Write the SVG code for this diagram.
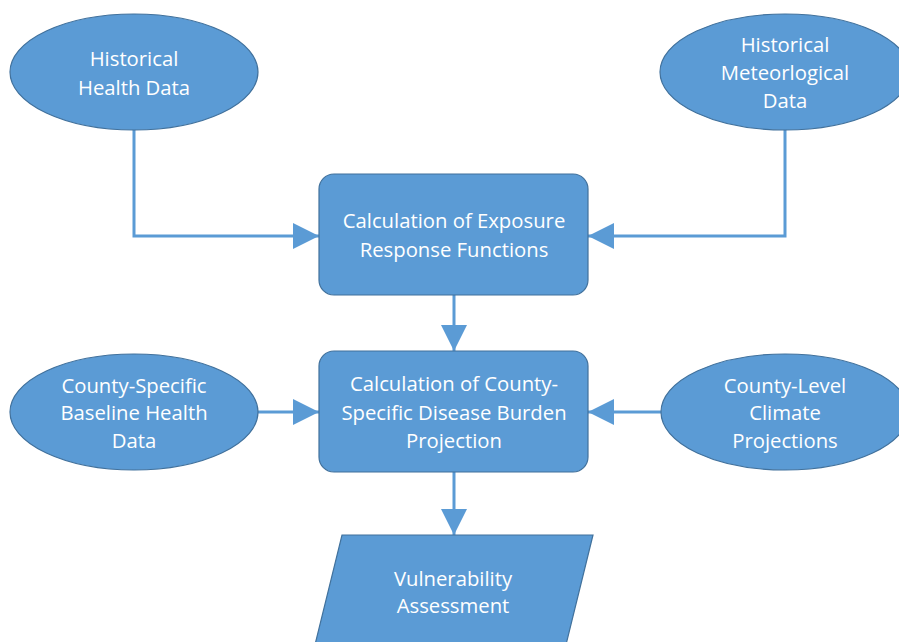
<svg xmlns="http://www.w3.org/2000/svg" width="899" height="642" viewBox="0 0 899 642">
<defs>
<style>
.n{fill:#5B9BD5;stroke:#41719C;stroke-width:1.2}
.t{font-family:"Open Sans","Liberation Sans",sans-serif;font-size:20.3px;fill:#ffffff;text-anchor:middle}
.c{fill:none;stroke:#5B9BD5;stroke-width:3}
</style>
<marker id="ah" viewBox="0 0 26 26" refX="26" refY="13" markerWidth="26" markerHeight="26" markerUnits="userSpaceOnUse" orient="auto">
<path d="M0,0 L26,13 L0,26 Z" fill="#5B9BD5"/>
</marker>
</defs>
<rect width="899" height="642" fill="#ffffff"/>
<g id="connectors">
<path class="c" d="M134,130 V236 H319" marker-end="url(#ah)"/>
<path class="c" d="M785,130 V236 H588" marker-end="url(#ah)"/>
<path class="c" d="M454,295 V351" marker-end="url(#ah)"/>
<path class="c" d="M258,412 H319" marker-end="url(#ah)"/>
<path class="c" d="M661,412 H588" marker-end="url(#ah)"/>
<path class="c" d="M454,472 V535" marker-end="url(#ah)"/>
</g>
<g id="historical-health">
<ellipse class="n" cx="134" cy="72" rx="124" ry="58"/>
<text class="t" x="134" y="66">Historical</text>
<text class="t" x="134" y="95">Health Data</text>
</g>
<g id="historical-meteo">
<ellipse class="n" cx="785" cy="72" rx="125" ry="58"/>
<text class="t" x="785" y="52">Historical</text>
<text class="t" x="785" y="80">Meteorlogical</text>
<text class="t" x="785" y="108">Data</text>
</g>
<g id="exposure-response">
<rect class="n" x="319" y="174" width="269" height="121" rx="15"/>
<text class="t" x="454" y="228">Calculation of Exposure</text>
<text class="t" x="454" y="257">Response Functions</text>
</g>
<g id="baseline-health">
<ellipse class="n" cx="134" cy="412" rx="124" ry="58"/>
<text class="t" x="134" y="393">County-Specific</text>
<text class="t" x="134" y="420">Baseline Health</text>
<text class="t" x="134" y="448">Data</text>
</g>
<g id="disease-burden">
<rect class="n" x="319" y="351" width="269" height="121" rx="15"/>
<text class="t" x="454" y="391">Calculation of County-</text>
<text class="t" x="454" y="420">Specific Disease Burden</text>
<text class="t" x="454" y="448">Projection</text>
</g>
<g id="climate-projections">
<ellipse class="n" cx="785" cy="412" rx="124" ry="58"/>
<text class="t" x="785" y="393">County-Level</text>
<text class="t" x="785" y="420">Climate</text>
<text class="t" x="785" y="448">Projections</text>
</g>
<g id="vulnerability">
<path class="n" d="M342,535 H593 L561,665 H310 Z"/>
<text class="t" x="453" y="586">Vulnerability</text>
<text class="t" x="453" y="613">Assessment</text>
</g>
</svg>
